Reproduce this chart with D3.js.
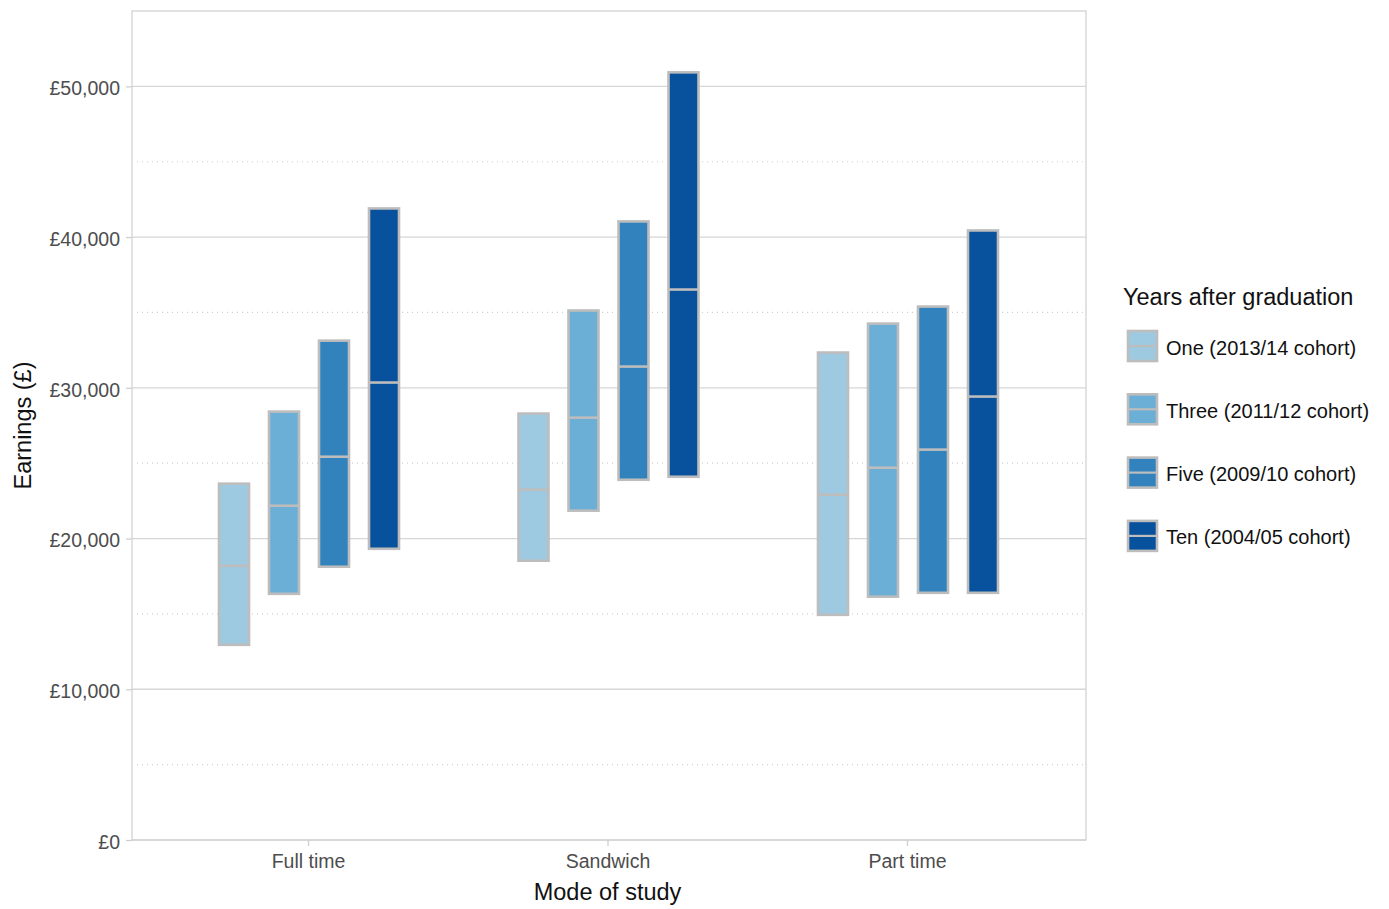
<!DOCTYPE html>
<html>
<head>
<meta charset="utf-8">
<script src="https://cdn.jsdelivr.net/npm/d3@7"></script>
<style>
  body { margin: 0; background: #fff; }
  text { font-family: "Liberation Sans", Arial, sans-serif; }
</style>
</head>
<body>
<div id="chart"></div>
<script>
// data
var modes = ["Full time", "Sandwich", "Part time"];
var cohorts = ["One (2013/14 cohort)", "Three (2011/12 cohort)", "Five (2009/10 cohort)", "Ten (2004/05 cohort)"];
var colours = ["#9ecae1", "#6baed6", "#3182bd", "#08519c"];

// lower quartile, median, upper quartile per mode, one row per cohort
var lowerQ = [[12950, 18530, 14940], [16330, 21850, 16140], [18130, 23900, 16400], [19320, 24100, 16400]];
var medians = [[18190, 23240, 22910], [22180, 28020, 24700], [25430, 31410, 25900], [30350, 36520, 29420]];
var upperQ = [[23640, 28290, 32340], [28420, 35130, 34260], [33130, 41040, 35390], [41900, 50930, 40440]];

var yTicks = [0, 10000, 20000, 30000, 40000, 50000];
var yMinor = [5000, 15000, 25000, 35000, 45000];

var width = 1389, height = 909;
var margin = {left: 132, right: 303, top: 11, bottom: 69};
var plotW = width - margin.left - margin.right;
var plotH = height - margin.top - margin.bottom;

var svg = d3.select("#chart").append("svg")
  .attr("width", width)
  .attr("height", height);

var x = d3.scalePoint().domain(modes).range([176, 775]);
var y = d3.scaleLinear().domain([0, 55000]).range([plotH, 0]);
var dodge = d3.scaleBand().domain(cohorts).range([-99, 101]).paddingInner(0.4).paddingOuter(0.2);

var g = svg.append("g").attr("transform", "translate(" + margin.left + "," + margin.top + ")");

// minor grid, dotted
g.selectAll(".minor").data(yMinor).enter().append("line")
  .attr("x1", 5).attr("x2", plotW - 3)
  .attr("y1", function(d) { return y(d); }).attr("y2", function(d) { return y(d); })
  .attr("stroke", "#cfcfcf").attr("stroke-width", 1.2).attr("stroke-dasharray", "1,4");

// major grid
g.selectAll(".major").data(yTicks).enter().append("line")
  .attr("x1", 0).attr("x2", plotW)
  .attr("y1", function(d) { return y(d); }).attr("y2", function(d) { return y(d); })
  .attr("stroke", "#d6d6d6").attr("stroke-width", 1.3);

// panel border
g.append("rect").attr("width", plotW).attr("height", plotH)
  .attr("fill", "none").attr("stroke", "#d3d3d3").attr("stroke-width", 1.3);

// axes
var yAxis = d3.axisLeft(y).tickValues(yTicks).tickSize(6).tickPadding(6)
  .tickFormat(function(d) { return "£" + d3.format(",")(d); });
var ya = g.append("g").call(yAxis);
ya.select(".domain").remove();
ya.selectAll("line").attr("stroke", "#cfcfcf").attr("stroke-width", 1.3);
ya.selectAll("text").attr("fill", "#4d4d4d").attr("dy", "0.42em").style("font-size", "19.5px");

var xAxis = d3.axisBottom(x).tickSize(6).tickPadding(8);
var xa = g.append("g").attr("transform", "translate(0," + plotH + ")").call(xAxis);
xa.select(".domain").remove();
xa.selectAll("line").attr("stroke", "#cfcfcf").attr("stroke-width", 1.3);
xa.selectAll("text").attr("fill", "#4d4d4d").style("font-size", "19.5px");

// boxes
var rows = [];
modes.forEach(function(m, mi) {
  cohorts.forEach(function(c, ci) {
    rows.push({mode: m, cohort: c, ci: ci, lo: lowerQ[ci][mi], mid: medians[ci][mi], hi: upperQ[ci][mi]});
  });
});

var box = g.selectAll(".box").data(rows).enter().append("g")
  .attr("transform", function(d) { return "translate(" + (x(d.mode) + dodge(d.cohort)) + ",0)"; });

box.append("rect")
  .attr("x", 0).attr("width", dodge.bandwidth())
  .attr("y", function(d) { return y(d.hi); })
  .attr("height", function(d) { return y(d.lo) - y(d.hi); })
  .attr("fill", function(d) { return colours[d.ci]; })
  .attr("stroke", "#bdbdbd").attr("stroke-width", 2.6);

box.append("line")
  .attr("x1", 0).attr("x2", dodge.bandwidth())
  .attr("y1", function(d) { return y(d.mid); }).attr("y2", function(d) { return y(d.mid); })
  .attr("stroke", "#bdbdbd").attr("stroke-width", 2.6);

// axis titles
svg.append("text")
  .attr("x", margin.left + x("Sandwich")).attr("y", 900)
  .attr("text-anchor", "middle").attr("fill", "#111").style("font-size", "23.5px")
  .text("Mode of study");

svg.append("text")
  .attr("transform", "translate(31," + (margin.top + plotH / 2) + ") rotate(-90)")
  .attr("text-anchor", "middle").attr("fill", "#111").style("font-size", "23.5px")
  .text("Earnings (£)");

// legend
var leg = svg.append("g").attr("transform", "translate(1123,0)");
leg.append("text").attr("x", 0).attr("y", 305).attr("fill", "#111").style("font-size", "23.5px")
  .text("Years after graduation");

var item = leg.selectAll(".item").data(cohorts).enter().append("g")
  .attr("transform", function(d, i) { return "translate(0," + (331 + i * 63.3) + ")"; });
item.append("rect").attr("x", 5).attr("y", 0).attr("width", 29).attr("height", 30)
  .attr("fill", function(d, i) { return colours[i]; })
  .attr("stroke", "#bdbdbd").attr("stroke-width", 2.6);
item.append("line").attr("x1", 5).attr("x2", 34).attr("y1", 15).attr("y2", 15)
  .attr("stroke", "#bdbdbd").attr("stroke-width", 2.2);
item.append("text").attr("x", 43).attr("y", 23.5).attr("fill", "#111").style("font-size", "20px")
  .text(function(d) { return d; });
</script>
</body>
</html>
